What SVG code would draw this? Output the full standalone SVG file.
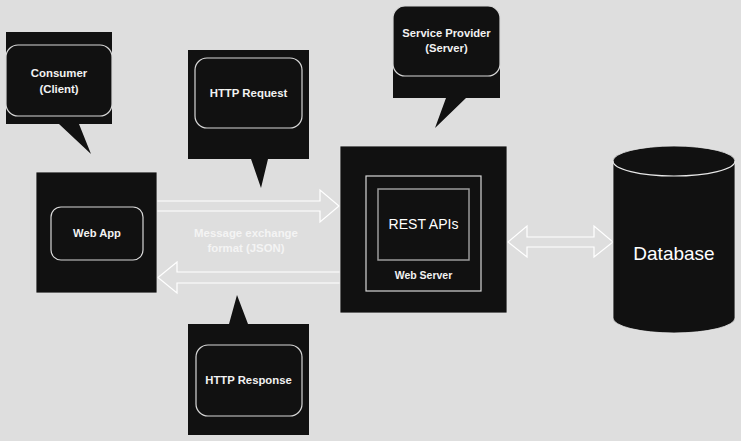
<svg xmlns="http://www.w3.org/2000/svg" width="741" height="441" viewBox="0 0 741 441">
<style>
.blk{fill:#111111;}
.edge{fill:#111111;stroke:#e4e4e4;stroke-width:0.8;}
.rr{fill:none;stroke:#d8d8d8;stroke-width:1.2;}
.arr{fill:none;stroke:#ffffff;stroke-width:1.2;stroke-linejoin:miter;}
.t{font-family:"Liberation Sans",Arial,sans-serif;font-size:11.4px;font-weight:bold;fill:#f2f2f2;text-anchor:middle;}
.m{font-family:"Liberation Sans",Arial,sans-serif;font-size:11.4px;font-weight:bold;fill:#f4f4f4;text-anchor:middle;}
.big{font-family:"Liberation Sans",Arial,sans-serif;fill:#ffffff;text-anchor:middle;}
</style>
<rect x="0" y="0" width="741" height="441" fill="#dedede"/>
<g id="connectors">
<polygon class="arr" points="150,201 320,201 320,190 339,206 320,222 320,211 150,211"/>
<polygon class="arr" points="158,277.5 177,262 177,272 345,272 345,283 177,283 177,293"/>
<polygon class="arr" points="508,242 527,226 527,237 594,237 594,226 613,242 594,257 594,247 527,247 527,257"/>
<text class="m" x="246" y="237">Message exchange</text>
<text class="m" x="246" y="252">format (JSON)</text>
</g>
<g id="consumer">
<path class="blk" d="M6,32 H112 V124 H79 L91,154 L59,124 H6 Z"/>
<rect class="rr" x="6" y="45" width="106" height="71" rx="12"/>
<text class="t" x="59" y="77">Consumer</text>
<text class="t" x="59" y="93">(Client)</text>
</g>
<g id="http-request">
<path class="blk" d="M188,50 H309 V159 H268 L261,188 L251,159 H188 Z"/>
<rect class="rr" x="195" y="58" width="107" height="70" rx="12"/>
<text class="t" x="248.5" y="97">HTTP Request</text>
</g>
<g id="service-provider">
<rect class="blk" x="393" y="6" width="107" height="70" rx="12"/>
<path class="blk" d="M393,30 H500 V98 H466 L435,128 L446,98 H393 Z"/>
<rect class="rr" x="393" y="6" width="107" height="70" rx="12"/>
<text class="t" x="446.5" y="37" style="font-size:11.2px">Service Provider</text>
<text class="t" x="446.5" y="52" style="font-size:11.2px">(Server)</text>
</g>
<g id="web-app">
<rect class="edge" x="36" y="172" width="121" height="121"/>
<rect class="rr" x="51" y="207" width="92" height="53" rx="10"/>
<text class="t" x="97" y="237" style="font-size:11.2px">Web App</text>
</g>
<g id="web-server">
<rect class="edge" x="340" y="146" width="167" height="167"/>
<rect x="366" y="176" width="115" height="115" fill="none" stroke="#d8d8d8" stroke-width="1.2"/>
<rect x="378" y="189" width="91" height="71" fill="none" stroke="#9a9a9a" stroke-width="1.5"/>
<text class="big" x="423.5" y="229" style="font-size:14px">REST APIs</text>
<text class="t" x="423.5" y="279" style="font-size:10.5px">Web Server</text>
</g>
<g id="http-response">
<path class="blk" d="M188,324 H229 L237,295 L248,324 H309 V435 H188 Z"/>
<rect class="rr" x="196" y="345" width="106" height="71" rx="12"/>
<text class="t" x="248.5" y="384" style="font-size:11.3px">HTTP Response</text>
</g>
<g id="database">
<path class="edge" d="M613,161 A61,15 0 0 1 735,161 V318 A61,15 0 0 1 613,318 Z"/>
<path d="M613,161 A61,15 0 0 0 735,161" fill="none" stroke="#e8e8e8" stroke-width="1.2"/>
<text class="big" x="674" y="260" style="font-size:19px">Database</text>
</g>
</svg>
